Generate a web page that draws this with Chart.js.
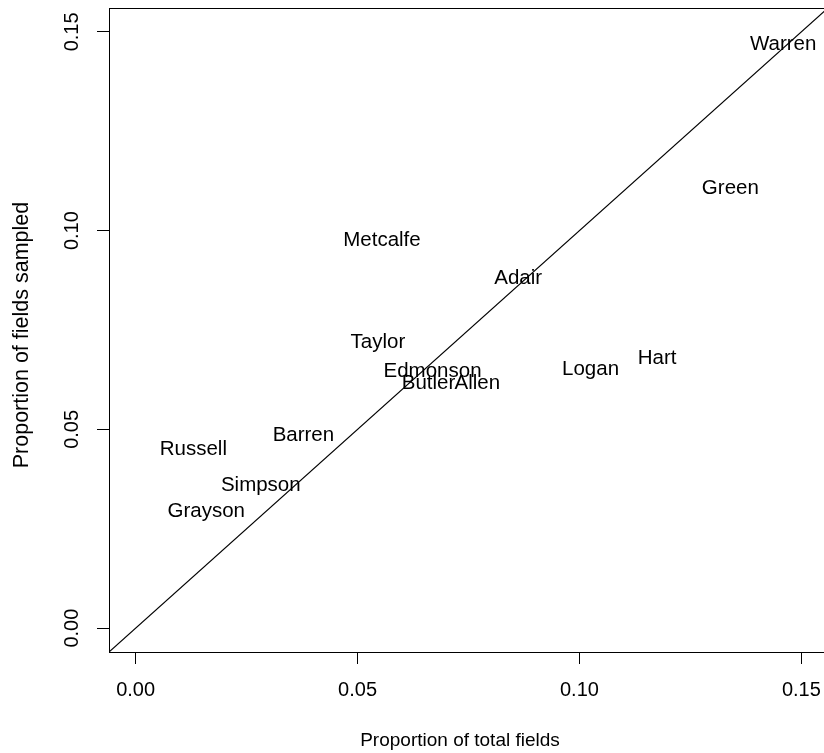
<!DOCTYPE html>
<html>
<head>
<meta charset="utf-8">
<script src="https://cdn.jsdelivr.net/npm/chart.js@4/dist/chart.umd.min.js"></script>
<style>
  html, body { margin: 0; padding: 0; background: #fff; overflow: hidden; }
  canvas { display: block; }
</style>
</head>
<body>
<canvas id="chart" width="840" height="753"></canvas>
<script>
// County shares: fraction of all fields vs fraction of sampled fields
const counties = ['Warren', 'Green', 'Metcalfe', 'Adair', 'Taylor', 'Edmonson', 'Butler',
                  'Allen', 'Logan', 'Hart', 'Barren', 'Russell', 'Simpson', 'Grayson'];
const totalShare   = [0.1459, 0.1340, 0.0555, 0.0862, 0.0546, 0.0669, 0.0660,
                      0.0770, 0.1025, 0.1175, 0.0378, 0.0130, 0.0282, 0.0159];
const sampledShare = [0.1472, 0.1111, 0.0979, 0.0883, 0.0724, 0.0651, 0.0620,
                      0.0620, 0.0656, 0.0682, 0.0488, 0.0455, 0.0363, 0.0298];
const tickValues = [0, 0.05, 0.10, 0.15];
const axisMin = -0.006;
const axisMax = 0.156;
const xTitle = 'Proportion of total fields';
const yTitle = 'Proportion of fields sampled';

const FONT_FAMILY = "'Liberation Sans', Arial, Helvetica, sans-serif";
const labelSize = 20.5;
const tickFont = { family: FONT_FAMILY, size: 20, lineHeight: 1.2 };

// Writes each county name centred on its point
const countyLabels = {
  id: 'countyLabels',
  afterDatasetsDraw(chart) {
    const meta = chart.getDatasetMeta(0);
    const ctx = chart.ctx;
    ctx.save();
    ctx.font = `${labelSize}px ${FONT_FAMILY}`;
    ctx.fillStyle = '#000';
    ctx.textAlign = 'center';
    ctx.textBaseline = 'alphabetic';
    const capHalf = labelSize * 0.716 / 2;
    meta.data.forEach((pt, i) => {
      ctx.fillText(counties[i], pt.x, pt.y + capHalf);
    });
    ctx.restore();
  }
};

// Frame around the plotting region plus the two axis titles
const plotFrame = {
  id: 'plotFrame',
  afterDraw(chart) {
    const { ctx, chartArea: a } = chart;
    ctx.save();
    ctx.strokeStyle = '#000';
    ctx.lineWidth = 1;
    ctx.strokeRect(Math.round(a.left) + 0.5, Math.round(a.top) + 0.5,
                   Math.round(a.right - a.left), Math.round(a.bottom - a.top));

    ctx.fillStyle = '#000';
    ctx.textAlign = 'center';
    ctx.textBaseline = 'middle';
    ctx.font = `19px ${FONT_FAMILY}`;
    ctx.fillText(xTitle, a.left + 351, chart.height - 12);

    ctx.translate(22, (a.top + a.bottom) / 2 + 5);
    ctx.rotate(-Math.PI / 2);
    ctx.font = `21.5px ${FONT_FAMILY}`;
    ctx.fillText(yTitle, 0, 0);
    ctx.restore();
  }
};

const fixedTicks = s => { s.ticks = tickValues.map(v => ({ value: v })); };

new Chart(document.getElementById('chart'), {
  type: 'scatter',
  data: {
    datasets: [
      {
        label: 'counties',
        data: counties.map((c, i) => ({ x: totalShare[i], y: sampledShare[i] })),
        pointRadius: 0,
        pointHoverRadius: 0
      },
      {
        type: 'line',
        label: 'y = x',
        data: [{ x: axisMin, y: axisMin }, { x: axisMax, y: axisMax }],
        borderColor: '#000',
        borderWidth: 1.2,
        pointRadius: 0,
        fill: false,
        tension: 0
      }
    ]
  },
  options: {
    responsive: false,
    animation: false,
    events: [],
    layout: { padding: { top: 8, right: 12, left: 0, bottom: 0 } },
    plugins: { legend: { display: false }, tooltip: { enabled: false } },
    scales: {
      x: {
        type: 'linear',
        min: axisMin,
        max: axisMax,
        afterBuildTicks: fixedTicks,
        afterFit: s => { s.height = 101; s.paddingLeft = 0; s.paddingRight = 0; },
        border: { display: false },
        grid: { display: true, drawOnChartArea: false, drawTicks: true, tickLength: 12,
                tickColor: '#000', tickWidth: 1 },
        ticks: { font: tickFont, color: '#000', padding: 14, maxRotation: 0, minRotation: 0,
                 autoSkip: false, callback: v => Number(v).toFixed(2) },
        title: { display: false }
      },
      y: {
        type: 'linear',
        min: axisMin,
        max: axisMax,
        afterBuildTicks: fixedTicks,
        afterFit: s => { s.width = 109; s.paddingTop = 0; s.paddingBottom = 0; },
        border: { display: false },
        grid: { display: true, drawOnChartArea: false, drawTicks: true, tickLength: 12,
                tickColor: '#000', tickWidth: 1 },
        ticks: { font: tickFont, color: '#000', padding: 5, minRotation: 90, maxRotation: 90,
                 crossAlign: 'center', autoSkip: false, callback: v => Number(v).toFixed(2) },
        title: { display: false }
      }
    }
  },
  plugins: [countyLabels, plotFrame]
});
</script>
</body>
</html>
